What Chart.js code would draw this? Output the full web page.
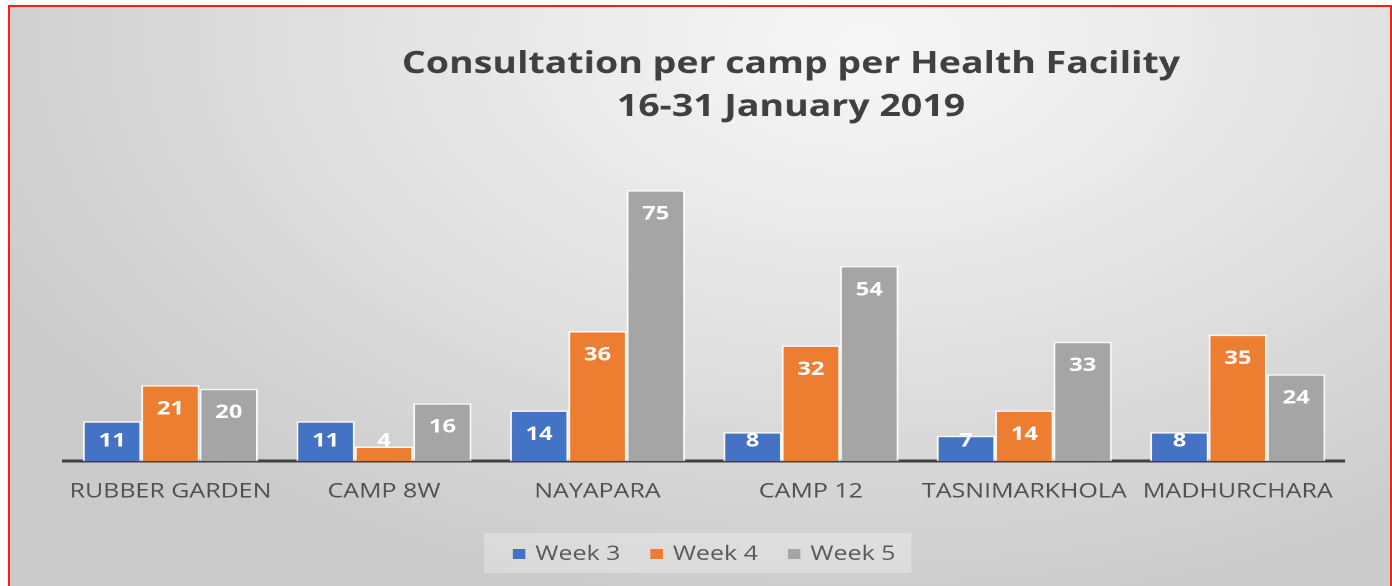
<!DOCTYPE html>
<html>
<head>
<meta charset="utf-8">
<title>Consultation per camp per Health Facility</title>
<script src="https://cdn.jsdelivr.net/npm/chart.js@4.4.1/dist/chart.umd.min.js"></script>
<style>
  html, body { margin: 0; padding: 0; width: 1392px; height: 586px; overflow: hidden; background: #fff; }
  #frame {
    position: absolute; left: 8px; top: 5px; width: 1380px; height: 600px;
    border: 2px solid #ff1a1a; border-bottom: none;
    background: radial-gradient(ellipse 70% 95% at 62% 6%, #f7f7f7 0%, #e5e5e5 45%, #cbcbcb 100%);
  }
  /* the source picture is stretched sideways, so the chart is drawn narrow and widened */
  #wrap { position: absolute; left: 0; top: 0; width: 1114px; height: 586px; transform-origin: 0 0; transform: scaleX(1.2496); }
</style>
</head>
<body>
<div id="frame"></div>
<div id="wrap"><canvas id="camp-chart" width="1114" height="586"></canvas></div>
<script>
const FONT = '"Open Sans", "Segoe UI", sans-serif';

const categories = ['RUBBER GARDEN', 'CAMP 8W', 'NAYAPARA', 'CAMP 12', 'TASNIMARKHOLA', 'MADHURCHARA'];
const week3 = [11, 11, 14, 8, 7, 8];
const week4 = [21, 4, 36, 32, 14, 35];
const week5 = [20, 16, 75, 54, 33, 24];
const seriesLabels = ['Week 3', 'Week 4', 'Week 5'];
const seriesColors = ['#4472C4', '#ED7D31', '#A5A5A5'];
const titleLines = ['Consultation per camp per Health Facility', '16-31 January 2019'];

// title sits right of centre in the original
const titlePlugin = {
  id: 'campTitle',
  afterDraw(chart) {
    const ctx = chart.ctx;
    ctx.save();
    ctx.fillStyle = '#404040';
    ctx.font = `bold 30px ${FONT}`;
    ctx.textAlign = 'center';
    ctx.textBaseline = 'alphabetic';
    ctx.fillText(titleLines[0], 633, 73);
    ctx.fillText(titleLines[1], 633, 116);
    ctx.restore();
  }
};

// white values near the top of each bar
const valuePlugin = {
  id: 'barValues',
  afterDatasetsDraw(chart) {
    const ctx = chart.ctx;
    ctx.save();
    ctx.fillStyle = '#ffffff';
    ctx.font = `bold 19px ${FONT}`;
    ctx.textAlign = 'center';
    ctx.textBaseline = 'middle';
    chart.data.datasets.forEach((ds, i) => {
      chart.getDatasetMeta(i).data.forEach((bar, j) => {
        const y = Math.min(bar.y + 24, bar.base - 20);
        ctx.fillText(String(ds.data[j]), bar.x, y);
      });
    });
    ctx.restore();
  }
};

// boxed legend under the axis labels
const legendPlugin = {
  id: 'boxLegend',
  afterDraw(chart) {
    const ctx = chart.ctx;
    const area = chart.chartArea;
    ctx.save();
    ctx.font = `20px ${FONT}`;
    const sq = 10, gapText = 8, gapItem = 24;
    const widths = chart.data.datasets.map(ds => ctx.measureText(ds.label).width);
    const total = widths.reduce((a, w) => a + sq + gapText + w, 0) + gapItem * (widths.length - 1);
    let x = (area.left + area.right) / 2 - total / 2;
    ctx.fillStyle = 'rgba(255,255,255,0.28)';
    ctx.fillRect(x - 23, 533, total + 36, 40);
    ctx.textBaseline = 'alphabetic';
    chart.data.datasets.forEach((ds, i) => {
      ctx.fillStyle = ds.backgroundColor;
      ctx.fillRect(x, 549, sq, sq);
      ctx.fillStyle = '#595959';
      ctx.fillText(ds.label, x + sq + gapText, 560);
      x += sq + gapText + widths[i] + gapItem;
    });
    ctx.restore();
  }
};

function renderCampChart() {
  const canvas = document.getElementById('camp-chart');
  const series = [week3, week4, week5];
  new Chart(canvas, {
    type: 'bar',
    data: {
      labels: categories,
      datasets: series.map((data, i) => ({
        label: seriesLabels[i],
        data,
        backgroundColor: seriesColors[i],
        borderColor: 'rgba(255,255,255,0.85)',
        borderWidth: 1.5,
        categoryPercentage: 0.82,
        barPercentage: 1.0,
      })),
    },
    options: {
      responsive: false,
      animation: false,
      devicePixelRatio: 2,
      layout: { padding: { left: 51, right: 38, top: 172, bottom: 0 } },
      plugins: { legend: { display: false }, title: { display: false }, tooltip: { enabled: false } },
      scales: {
        x: {
          grid: { display: false, drawTicks: false },
          border: { display: true, color: '#404040', width: 3 },
          ticks: { color: '#505050', font: { family: FONT, size: 20 }, padding: 19, maxRotation: 0, autoSkip: false },
          afterFit: (scale) => { scale.height = 125; },
        },
        y: { display: false, min: 0, max: 80 },
      },
    },
    plugins: [titlePlugin, valuePlugin, legendPlugin],
  });
}

renderCampChart();
</script>
</body>
</html>
